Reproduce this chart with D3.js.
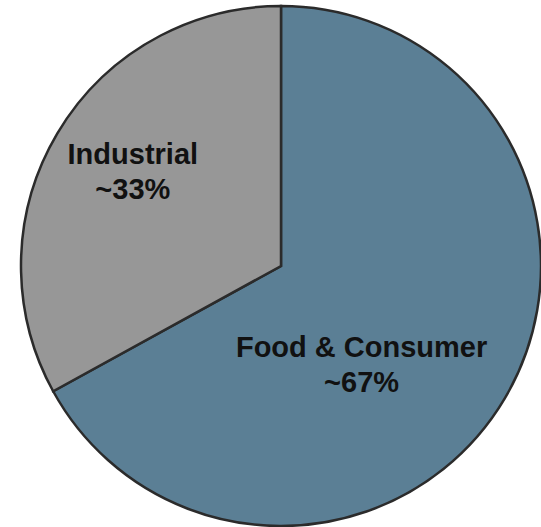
<!DOCTYPE html>
<html lang="en">
<head>
    <meta charset="UTF-8">
    <title>Segment Mix</title>
    <script src="https://cdnjs.cloudflare.com/ajax/libs/d3/7.8.5/d3.min.js"></script>
    <style>
      body {
        margin: 0;
        background-color: white;
        font-family: "Liberation Sans", Arial, sans-serif;
      }
      .label {
        font-weight: bold;
        font-size: 29px;
        fill: #111;
      }
    </style>
</head>
<body>
    <div id="chart"></div>

    <script>
        // chart data
        const segments = ["Food & Consumer", "Industrial"];
        const shares = [67, 33];
        const shareLabels = ["~67%", "~33%"];

        const width = 541;
        const height = 527;
        const cx = 281;
        const cy = 266;
        const radius = 260;

        const colors = d3.scaleOrdinal()
            .domain(segments)
            .range(["#5b7f95", "#979797"]);

        // where each label sits, in fractions of the radius from the centre
        const labelOffset = {
            "Food & Consumer": [0.31, 0.41],
            "Industrial": [-0.57, -0.33]
        };

        const data = segments.map((s, i) => ({name: s, value: shares[i], label: shareLabels[i]}));

        const pie = d3.pie()
            .sort(null)
            .value(d => d.value);

        const arc = d3.arc()
            .innerRadius(0)
            .outerRadius(radius);

        const svg = d3.select("#chart")
            .append("svg")
            .attr("width", width)
            .attr("height", height);

        const g = svg.append("g")
            .attr("transform", `translate(${cx},${cy})`);

        g.selectAll("path")
            .data(pie(data))
            .join("path")
            .attr("d", arc)
            .attr("fill", d => colors(d.data.name))
            .attr("stroke", "#2b2b2b")
            .attr("stroke-width", 2.5)
            .attr("stroke-linejoin", "miter");

        const labels = g.selectAll("text")
            .data(pie(data))
            .join("text")
            .attr("class", "label")
            .attr("text-anchor", "middle")
            .attr("transform", d => {
                const o = labelOffset[d.data.name];
                return `translate(${o[0] * radius},${o[1] * radius})`;
            });

        labels.append("tspan")
            .attr("x", 0)
            .attr("y", -16)
            .text(d => d.data.name);

        labels.append("tspan")
            .attr("x", 0)
            .attr("y", 19)
            .text(d => d.data.label);
    </script>
</body>
</html>
